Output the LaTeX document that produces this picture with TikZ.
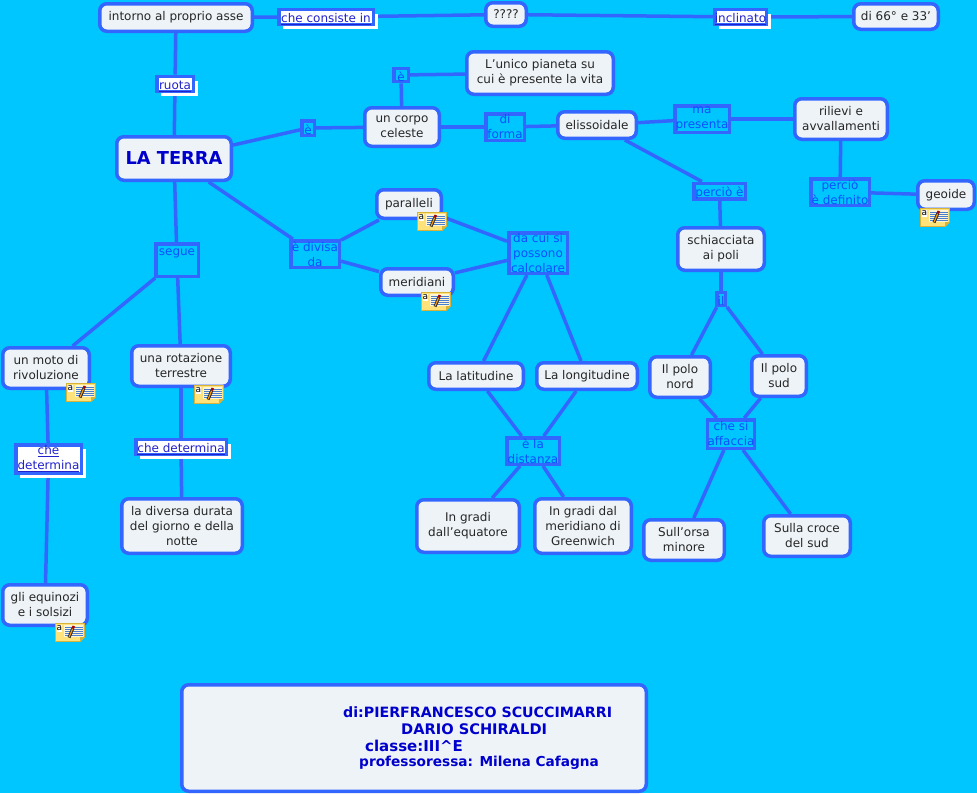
\documentclass[tikz,border=0pt]{standalone}
\usepackage{fontspec}
\setmainfont{DejaVu Sans}
\usetikzlibrary{backgrounds,shadows}
\definecolor{sky}{HTML}{00C6FF}
\definecolor{rim}{HTML}{3366FF}
\definecolor{paper}{HTML}{EEF3F7}
\definecolor{inkdeep}{HTML}{0000CC}
\definecolor{inklink}{HTML}{2222CC}
\definecolor{inklabel}{HTML}{0A50FF}
\definecolor{notey}{HTML}{FFE27A}
\definecolor{noter}{HTML}{D9B23A}
\definecolor{noteline}{HTML}{4A7FD0}
\tikzset{
 base/.style={line width=3.5pt,draw=rim,inner sep=0pt,align=center,font=\fontsize{12}{15}\selectfont},
 concept/.style={base,fill=paper,rounded corners=7pt,text=black!85},
 main/.style={concept,text=inkdeep,font=\fontsize{17.8}{20}\bfseries\selectfont},
 tag/.style={base,fill=sky,text=inklabel,execute at begin node={\rule{0pt}{13pt}}},
 linktag/.style={base,fill=white,text=inklink,execute at begin node={\rule{0pt}{13pt}},general shadow={shadow xshift=4.5pt,shadow yshift=-4.5pt,fill=white}},
 conn/.style={line width=3.5pt,draw=rim},
 credit/.style={anchor=west,inner sep=0pt,text=inkdeep},
}
\newcommand{\kn}[7]{\node[#2,minimum width={#5-#3-3.5},minimum height={#6-#4-3.5}] (#1) at ({(#3+#5)/2},{(#4+#6)/2}) {#7};}
\newcommand{\noteicon}[3]{%
 \begin{scope}[shift={(#2,#3)}]
  \fill[notey,draw=noter,line width=0.9pt] (0.5,0.5) -- (29.5,0.5) -- (29.5,14) -- (25,18.5) -- (0.5,18.5) -- cycle;
  \fill[noter] (25,18.5) -- (25,14) -- (29.5,14) -- cycle;
  \fill[white!70!notey] (9,2) rectangle (27.5,13.5);
  \foreach \yy in {4,6.2,8.4,10.6,12.8}{\draw[noteline,line width=0.8pt] (10,\yy) -- (27.5,\yy);}
  \draw[black!85,line width=3pt] (14,14.5) -- (17.8,5.5);
  \draw[orange!80!yellow,line width=1.2pt] (14.1,14) -- (17.6,5.8);
  \draw[red!65!black,line width=2.6pt] (17.8,5.5) -- (18.8,3);
  \fill[white] (1.5,1.5) rectangle (7,9);
  \node[inner sep=0pt,font=\fontsize{9}{9}\selectfont] (#1) at (4.3,5) {a};
 \end{scope}}
\begin{document}
\begin{tikzpicture}[x=1pt,y=-1pt]
\useasboundingbox (0,0) rectangle (977,793);
\kn{asse}{concept}{98}{2}{254}{33}{intorno al proprio asse}
\kn{consiste}{linktag}{277}{8}{375}{26}{\underline{che consiste in}}
\kn{quest}{concept}{484}{1}{528}{28}{????}
\kn{inclinato}{linktag}{713}{8}{768}{26}{\underline{inclinato}}
\kn{gradi}{concept}{852}{2}{940}{31}{di 66° e 33'}
\kn{ruota}{linktag}{155}{76}{195}{92}{\underline{ruota}}
\kn{terra}{main}{115}{135}{233}{182}{LA TERRA}
\kn{e1}{tag}{300}{119}{316}{137}{è}
\kn{corpo}{concept}{363}{106}{441}{148}{un corpo\\celeste}
\kn{e2}{tag}{392}{67}{410}{83}{è}
\kn{unico}{concept}{465}{50}{615}{96}{L'unico pianeta su\\ cui è presente la vita}
\kn{forma}{tag}{484}{112}{526}{142}{di\\forma}
\kn{eliss}{concept}{556}{110}{638}{140}{elissoidale}
\kn{presenta}{tag}{673}{104}{731}{134}{ma\\presenta}
\kn{rilievi}{concept}{793}{97}{889}{141}{rilievi e\\avvallamenti}
\kn{percio}{tag}{692}{182}{747}{200}{perciò è}
\kn{definito}{tag}{809}{177}{871}{207}{perciò\\è definito}
\kn{geoide}{concept}{916}{179}{976}{211}{geoide}
\kn{paralleli}{concept}{375}{188}{443}{220}{paralleli}
\kn{meridiani}{concept}{379}{267}{455}{297}{meridiani}
\kn{divisa}{tag}{289}{239}{341}{269}{è divisa\\da}
\kn{dacui}{tag}{507}{231}{569}{275}{da cui si\\possono\\calcolare}
\kn{segue}{tag}{154}{242}{200}{278}{segue\\\mbox{}}
\kn{schiac}{concept}{676}{226}{766}{272}{schiacciata\\ai poli}
\kn{il}{tag}{715}{291}{727}{307}{il}
\kn{moto}{concept}{1}{346}{91}{390}{un moto di\\rivoluzione}
\kn{rotaz}{concept}{130}{344}{232}{388}{una rotazione\\terrestre}
\kn{detl}{linktag}{14}{443}{83}{475}{\underline{che}\\\underline{determina}}
\kn{detr}{linktag}{134}{438}{228}{456}{\underline{che determina}}
\kn{durata}{concept}{120}{497}{244}{555}{la diversa durata\\del giorno e della\\notte}
\kn{equin}{concept}{1}{583}{89}{627}{gli equinozi\\ e i solsizi}
\kn{lat}{concept}{427}{361}{525}{391}{La latitudine}
\kn{long}{concept}{535}{361}{639}{391}{La longitudine}
\kn{dist}{tag}{505}{436}{561}{466}{è la\\distanza}
\kn{equat}{concept}{415}{498}{521}{554}{In gradi\\dall'equatore}
\kn{green}{concept}{533}{497}{633}{555}{In gradi dal\\meridiano di\\Greenwich}
\kn{nord}{concept}{648}{355}{712}{399}{Il polo\\nord}
\kn{sud}{concept}{750}{354}{808}{398}{Il polo\\sud}
\kn{affac}{tag}{706}{418}{756}{450}{che si\\affaccia}
\kn{orsa}{concept}{642}{518}{726}{562}{Sull'orsa\\minore}
\kn{croce}{concept}{762}{514}{852}{558}{Sulla croce\\del sud}
\kn{cred}{concept}{180}{683}{648}{793}{}
\node[credit,font=\fontsize{14.2}{16}\bfseries\selectfont] (c1) at (343,712) {di:PIERFRANCESCO SCUCCIMARRI};
\node[credit,font=\fontsize{14.6}{16}\bfseries\selectfont] (c2) at (401,729) {DARIO SCHIRALDI};
\node[credit,font=\fontsize{15}{16}\bfseries\selectfont] (c3) at (365,746) {classe:III\^{}E};
\node[credit,font=\fontsize{13.7}{16}\bfseries\selectfont] (c4) at (359,763) {professoressa: Milena Cafagna};
\noteicon{n1}{66}{383}
\noteicon{n2}{194}{385}
\noteicon{n3}{55}{623}
\noteicon{n4}{417}{212}
\noteicon{n5}{421}{292}
\noteicon{n6}{920}{208}
\begin{pgfonlayer}{background}
\fill[sky] (0,0) rectangle (977,793);
\foreach \aa/\bb in {asse/consiste,consiste/quest,quest/inclinato,inclinato/gradi,
  asse/ruota,ruota/terra,terra/e1,e1/corpo,corpo/e2,e2/unico,corpo/forma,forma/eliss,
  eliss/presenta,presenta/rilievi,eliss/percio,percio/schiac,rilievi/definito,definito/geoide,
  schiac/il,il/nord,il/sud,nord/affac,sud/affac,affac/orsa,affac/croce,
  terra/segue,segue/moto,segue/rotaz,rotaz/detr,detr/durata,moto/detl,detl/equin,
  terra/divisa,divisa/paralleli,divisa/meridiani,paralleli/dacui,meridiani/dacui,
  dacui/lat,dacui/long,lat/dist,long/dist,dist/equat,dist/green}
  {\draw[conn] (\aa) -- (\bb);}
\end{pgfonlayer}
\end{tikzpicture}
\end{document}
